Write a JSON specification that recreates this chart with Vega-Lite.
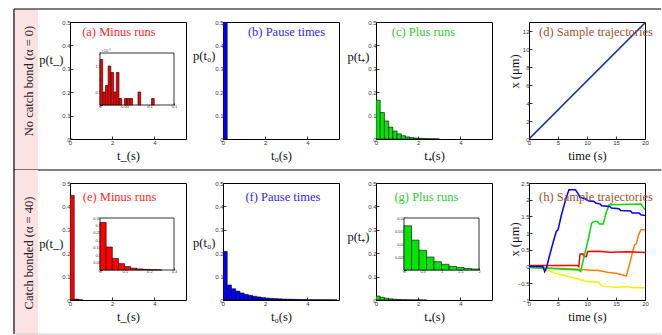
{
"$schema":"https://vega.github.io/schema/vega-lite/v6.json",
"padding":{"left":13,"top":8,"right":0,"bottom":0},
"autosize":{"type":"pad"},
"config":{
 "view":{"stroke":"#000","strokeWidth":1},
 "axis":{"domain":false,"grid":false,"tickColor":"#000","tickSize":-3,"tickWidth":0.8,"labelOverlap":false,"labelFlush":false,"labelBound":false,"labelFont":"Liberation Sans","labelFontSize":6,"labelColor":"#333","labelPadding":3,"titleFont":"Liberation Serif","titleFontSize":12.5,"titleFontWeight":"normal","titleColor":"#111"},
 "text":{"font":"Liberation Serif"}
},
"datasets":{
 "minus0":[{"t0":0,"t1":0.0055,"p":0.00175},{"t0":0.0055,"t1":0.011,"p":0.0005},{"t0":0.011,"t1":0.0165,"p":0.00075},{"t0":0.0165,"t1":0.022,"p":0.0015},{"t0":0.022,"t1":0.0275,"p":0.00125},{"t0":0.0275,"t1":0.033,"p":0.0005},{"t0":0.033,"t1":0.0385,"p":0.00125},{"t0":0.0385,"t1":0.044,"p":0.00025},{"t0":0.0495,"t1":0.055,"p":0.00025},{"t0":0.055,"t1":0.0605,"p":0.00025},{"t0":0.0605,"t1":0.066,"p":0.00025},{"t0":0.077,"t1":0.0825,"p":0.0005},{"t0":0.1045,"t1":0.11,"p":0.00025}],
 "pause0":[{"t0":0,"t1":0.2,"p":0.5}],
 "plus0":[{"t0":0,"t1":0.2,"p":0.166},{"t0":0.2,"t1":0.4,"p":0.113},{"t0":0.4,"t1":0.6,"p":0.077},{"t0":0.6,"t1":0.8,"p":0.051},{"t0":0.8,"t1":1.0,"p":0.034},{"t0":1.0,"t1":1.2,"p":0.022},{"t0":1.2,"t1":1.4,"p":0.014},{"t0":1.4,"t1":1.6,"p":0.009},{"t0":1.6,"t1":1.8,"p":0.006},{"t0":1.8,"t1":2.0,"p":0.004},{"t0":2.0,"t1":2.2,"p":0.003},{"t0":2.2,"t1":2.4,"p":0.002},{"t0":2.4,"t1":2.6,"p":0.0013},{"t0":2.6,"t1":2.8,"p":0.0009},{"t0":2.8,"t1":3.0,"p":0.0006}],
 "traj0":[{"t":0,"x":0},{"t":20,"x":12.9}],
 "minus40":[{"t0":0,"t1":0.2,"p":0.447},{"t0":0.2,"t1":0.4,"p":0.004},{"t0":0.4,"t1":0.6,"p":0.001}],
 "minus40inset":[{"t0":0,"t1":0.025,"p":0.32},{"t0":0.025,"t1":0.05,"p":0.155},{"t0":0.05,"t1":0.075,"p":0.078},{"t0":0.075,"t1":0.1,"p":0.043},{"t0":0.1,"t1":0.125,"p":0.023},{"t0":0.125,"t1":0.15,"p":0.012},{"t0":0.15,"t1":0.175,"p":0.007},{"t0":0.175,"t1":0.2,"p":0.004},{"t0":0.2,"t1":0.225,"p":0.002},{"t0":0.225,"t1":0.25,"p":0.001}],
 "pause40":[{"t0":0,"t1":0.2,"p":0.208},{"t0":0.2,"t1":0.4,"p":0.064},{"t0":0.4,"t1":0.6,"p":0.048},{"t0":0.6,"t1":0.8,"p":0.038},{"t0":0.8,"t1":1.0,"p":0.03},{"t0":1.0,"t1":1.2,"p":0.024},{"t0":1.2,"t1":1.4,"p":0.02},{"t0":1.4,"t1":1.6,"p":0.016},{"t0":1.6,"t1":1.8,"p":0.013},{"t0":1.8,"t1":2.0,"p":0.01},{"t0":2.0,"t1":2.2,"p":0.008},{"t0":2.2,"t1":2.4,"p":0.007},{"t0":2.4,"t1":2.6,"p":0.006},{"t0":2.6,"t1":2.8,"p":0.005},{"t0":2.8,"t1":3.0,"p":0.004},{"t0":3.0,"t1":3.2,"p":0.0035},{"t0":3.2,"t1":3.4,"p":0.003},{"t0":3.4,"t1":3.6,"p":0.0025},{"t0":3.6,"t1":3.8,"p":0.002},{"t0":3.8,"t1":4.0,"p":0.0018},{"t0":4.0,"t1":4.2,"p":0.0015},{"t0":4.2,"t1":4.4,"p":0.0013},{"t0":4.4,"t1":4.6,"p":0.0011},{"t0":4.6,"t1":4.8,"p":0.001},{"t0":4.8,"t1":5.0,"p":0.0009},{"t0":5.0,"t1":5.2,"p":0.0008},{"t0":5.2,"t1":5.4,"p":0.0007}],
 "plus40":[{"t0":0,"t1":0.2,"p":0.017},{"t0":0.2,"t1":0.4,"p":0.0115},{"t0":0.4,"t1":0.6,"p":0.0076},{"t0":0.6,"t1":0.8,"p":0.005},{"t0":0.8,"t1":1.0,"p":0.0032},{"t0":1.0,"t1":1.2,"p":0.0022},{"t0":1.2,"t1":1.4,"p":0.0014},{"t0":1.4,"t1":1.6,"p":0.001},{"t0":1.6,"t1":1.8,"p":0.0006},{"t0":1.8,"t1":2.0,"p":0.0004},{"t0":2.0,"t1":2.2,"p":0.0003},{"t0":2.2,"t1":2.4,"p":0.0002}],
 "traj40":[
  {"run":"yellow","t":0,"x":0},{"run":"yellow","t":2,"x":-0.05},{"run":"yellow","t":3.5,"x":-0.13},{"run":"yellow","t":5,"x":-0.22},{"run":"yellow","t":6.5,"x":-0.28},{"run":"yellow","t":8,"x":-0.35},{"run":"yellow","t":9,"x":-0.4},{"run":"yellow","t":10,"x":-0.45},{"run":"yellow","t":12,"x":-0.46},{"run":"yellow","t":12.4,"x":-0.55},{"run":"yellow","t":13,"x":-0.6},{"run":"yellow","t":15,"x":-0.62},{"run":"yellow","t":17,"x":-0.6},{"run":"yellow","t":18,"x":-0.63},{"run":"yellow","t":20,"x":-0.63},
  {"run":"orange","t":0,"x":-0.02},{"run":"orange","t":3,"x":-0.04},{"run":"orange","t":6,"x":-0.06},{"run":"orange","t":8.5,"x":-0.08},{"run":"orange","t":10,"x":-0.1},{"run":"orange","t":12,"x":-0.12},{"run":"orange","t":13.5,"x":-0.17},{"run":"orange","t":15,"x":-0.2},{"run":"orange","t":16.5,"x":-0.27},{"run":"orange","t":16.8,"x":-0.28},{"run":"orange","t":17.3,"x":0.05},{"run":"orange","t":17.8,"x":0.4},{"run":"orange","t":18.2,"x":0.65},{"run":"orange","t":18.5,"x":0.68},{"run":"orange","t":18.9,"x":0.95},{"run":"orange","t":19.3,"x":1.1},{"run":"orange","t":20,"x":1.1},
  {"run":"red","t":0,"x":0.03},{"run":"red","t":4,"x":0.03},{"run":"red","t":8.4,"x":0.03},{"run":"red","t":8.6,"x":0.0},{"run":"red","t":8.8,"x":0.37},{"run":"red","t":9.3,"x":0.38},{"run":"red","t":9.5,"x":0.3},{"run":"red","t":9.9,"x":0.3},{"run":"red","t":10.1,"x":0.45},{"run":"red","t":12,"x":0.46},{"run":"red","t":14,"x":0.43},{"run":"red","t":17,"x":0.44},{"run":"red","t":20,"x":0.42},
  {"run":"green","t":0,"x":-0.03},{"run":"green","t":3,"x":-0.05},{"run":"green","t":6,"x":-0.08},{"run":"green","t":8.6,"x":-0.1},{"run":"green","t":8.9,"x":-0.15},{"run":"green","t":9.5,"x":0.3},{"run":"green","t":10.2,"x":0.8},{"run":"green","t":10.8,"x":1.3},{"run":"green","t":11.2,"x":1.35},{"run":"green","t":11.8,"x":1.35},{"run":"green","t":12.2,"x":1.27},{"run":"green","t":12.8,"x":1.27},{"run":"green","t":13.2,"x":1.55},{"run":"green","t":13.8,"x":1.85},{"run":"green","t":16,"x":1.86},{"run":"green","t":19.3,"x":1.87},{"run":"green","t":20,"x":1.7},
  {"run":"blue","t":0,"x":0},{"run":"blue","t":2.4,"x":0},{"run":"blue","t":2.7,"x":-0.15},{"run":"blue","t":3.0,"x":-0.05},{"run":"blue","t":3.5,"x":0.3},{"run":"blue","t":4.2,"x":0.75},{"run":"blue","t":4.7,"x":1.05},{"run":"blue","t":5.0,"x":1.1},{"run":"blue","t":5.6,"x":1.55},{"run":"blue","t":6.4,"x":2.05},{"run":"blue","t":6.9,"x":2.3},{"run":"blue","t":8.0,"x":2.3},{"run":"blue","t":8.4,"x":2.2},{"run":"blue","t":8.8,"x":2.07},{"run":"blue","t":9.8,"x":2.02},{"run":"blue","t":10.2,"x":1.97},{"run":"blue","t":11.2,"x":1.95},{"run":"blue","t":11.5,"x":1.9},{"run":"blue","t":12.3,"x":1.87},{"run":"blue","t":12.5,"x":1.82},{"run":"blue","t":13.9,"x":1.8},{"run":"blue","t":14.2,"x":1.75},{"run":"blue","t":15.5,"x":1.73},{"run":"blue","t":15.8,"x":1.68},{"run":"blue","t":17.5,"x":1.66},{"run":"blue","t":17.8,"x":1.6},{"run":"blue","t":19.0,"x":1.6},{"run":"blue","t":19.3,"x":1.55},{"run":"blue","t":20,"x":1.53}
 ]
},
"columns":5,
"spacing":{"row":44,"column":37},
"bounds":"flush",
"concat":[
 {
  "width":18,"height":117,
  "view":{"stroke":null},
  "data":{"values":[{}]},
  "layer":[
   {"mark":{"type":"rect","fill":"#fbe3e3"},"encoding":{"x":{"datum":0,"type":"quantitative","scale":{"domain":[0,1],"nice":false,"zero":false},"axis":null},"x2":{"datum":1.278},"y":{"datum":-31,"type":"quantitative","scale":{"domain":[0,117],"nice":false},"axis":null},"y2":{"datum":130}}},
   {"mark":{"type":"rule","color":"#000","strokeWidth":1.2},"encoding":{"x":{"datum":-0.056,"type":"quantitative","axis":null},"x2":{"datum":35.9},"y":{"datum":130,"type":"quantitative","axis":null}}},
   {"mark":{"type":"rule","color":"#000","strokeWidth":1.2},"encoding":{"x":{"datum":-0.056,"type":"quantitative","axis":null},"x2":{"datum":35.9},"y":{"datum":-31,"type":"quantitative","axis":null}}},
   {"mark":{"type":"rule","color":"#000","strokeWidth":1.2},"encoding":{"x":{"datum":-0.056,"type":"quantitative","axis":null},"y":{"datum":-31,"type":"quantitative","axis":null},"y2":{"datum":130}}},
   {"mark":{"type":"text","angle":270,"fontSize":12.5,"font":"Liberation Serif","color":"#222","align":"center","baseline":"middle"},"encoding":{"x":{"datum":0.78,"type":"quantitative","axis":null},"y":{"datum":58,"type":"quantitative","axis":null},"text":{"value":"No catch bond (α = 0)"}}}
  ]
 },
 {
  "width":116,"height":117,
  "layer":[
   {"layer":[
    {"data":{"name":"minus0"},"mark":{"type":"rect","fill":"#ff0000","stroke":"#000","strokeWidth":0.6,"clip":true},
     "encoding":{"x":{"field":"t0","type":"quantitative","scale":{"domain":[0,5.5],"nice":false},"axis":{"values":[0,2,4],"title":"t_(s)","titleY":20,"titleBaseline":"alphabetic"}},"x2":{"field":"t1"},
      "y":{"field":"p","type":"quantitative","scale":{"domain":[0,0.5],"nice":false},"axis":{"values":[0,0.1,0.2,0.3,0.4,0.5],"format":"~g","title":"p(t_)","titleAngle":0,"titleAlign":"right","titleBaseline":"middle","titleX":-7,"titleY":37}},"y2":{"datum":0}}},
    {"data":{"values":[{}]},"mark":{"type":"text","text":"(a) Minus runs","color":"#ff2a2a","fontSize":12.5,"baseline":"alphabetic","align":"center"},
     "encoding":{"x":{"datum":2.32,"type":"quantitative","axis":{"values":[0,2,4],"title":"t_(s)","titleY":20,"titleBaseline":"alphabetic"}},
      "y":{"datum":0.439,"type":"quantitative","axis":{"values":[0,0.1,0.2,0.3,0.4,0.5],"format":"~g","title":"p(t_)","titleAngle":0,"titleAlign":"right","titleBaseline":"middle","titleX":-7,"titleY":37}}}}
   ]},
   {"layer":[
    {"data":{"values":[{}]},"mark":{"type":"rect","fill":"#fff","stroke":"#000","strokeWidth":0.8},
     "encoding":{"x":{"datum":0,"type":"quantitative","scale":{"domain":[0,0.15],"range":[30,104],"nice":false},"axis":{"orient":"bottom","offset":-34,"values":[0,0.05,0.1,0.15],"format":"~g","labelFontSize":4,"labelPadding":1.5,"tickSize":-2,"title":null}},"x2":{"datum":0.15},
      "y":{"datum":0,"type":"quantitative","scale":{"domain":[0,0.002],"range":[83,31],"nice":false},"axis":{"orient":"left","offset":-30,"values":[0,0.0005,0.001,0.0015,0.002],"labelExpr":"round(datum.value*10000)/10","labelFontSize":4,"labelPadding":1.5,"tickSize":-2,"title":"×10⁻³","titleAngle":0,"titleFont":"Liberation Sans","titleFontSize":4,"titleColor":"#444","titleAlign":"left","titleBaseline":"alphabetic","titleX":1,"titleY":29}},"y2":{"datum":0.002}}},
    {"data":{"name":"minus0"},"mark":{"type":"rect","fill":"#ff0000","stroke":"#000","strokeWidth":0.6},
     "encoding":{"x":{"field":"t0","type":"quantitative","axis":{"orient":"bottom","offset":-34,"values":[0,0.05,0.1,0.15],"format":"~g","labelFontSize":4,"labelPadding":1.5,"tickSize":-2,"title":null}},"x2":{"field":"t1"},
      "y":{"field":"p","type":"quantitative","axis":{"orient":"left","offset":-30,"values":[0,0.0005,0.001,0.0015,0.002],"labelExpr":"round(datum.value*10000)/10","labelFontSize":4,"labelPadding":1.5,"tickSize":-2,"title":"×10⁻³","titleAngle":0,"titleFont":"Liberation Sans","titleFontSize":4,"titleColor":"#444","titleAlign":"left","titleBaseline":"alphabetic","titleX":1,"titleY":29}},"y2":{"datum":0}}}
   ]}
  ],
  "resolve":{"scale":{"x":"independent","y":"independent"}}
 },
 {
  "width":116,"height":117,
  "layer":[
   {"data":{"name":"pause0"},"mark":{"type":"rect","fill":"#0000ff","stroke":"#000","strokeWidth":0.6,"clip":true},
    "encoding":{"x":{"field":"t0","type":"quantitative","scale":{"domain":[0,5.5],"nice":false},"axis":{"values":[0,2,4],"title":"t₀(s)","titleY":20,"titleBaseline":"alphabetic"}},"x2":{"field":"t1"},
     "y":{"field":"p","type":"quantitative","scale":{"domain":[0,0.5],"nice":false},"axis":{"values":[0,0.1,0.2,0.3,0.4,0.5],"format":"~g","title":"p(t₀)","titleAngle":0,"titleAlign":"right","titleBaseline":"middle","titleX":-8,"titleY":33}},"y2":{"datum":0}}},
   {"data":{"values":[{}]},"mark":{"type":"text","text":"(b) Pause times","color":"#2a2aff","fontSize":12.5,"baseline":"alphabetic","align":"center"},
    "encoding":{"x":{"datum":3.01,"type":"quantitative","axis":{"values":[0,2,4],"title":"t₀(s)","titleY":20,"titleBaseline":"alphabetic"}},
     "y":{"datum":0.439,"type":"quantitative","axis":{"values":[0,0.1,0.2,0.3,0.4,0.5],"format":"~g","title":"p(t₀)","titleAngle":0,"titleAlign":"right","titleBaseline":"middle","titleX":-8,"titleY":33}}}}
  ]
 },
 {
  "width":116,"height":117,
  "layer":[
   {"data":{"name":"plus0"},"mark":{"type":"rect","fill":"#00e600","stroke":"#000","strokeWidth":0.6,"clip":true},
    "encoding":{"x":{"field":"t0","type":"quantitative","scale":{"domain":[0,5.5],"nice":false},"axis":{"values":[0,2,4],"title":"t₊(s)","titleY":20,"titleBaseline":"alphabetic"}},"x2":{"field":"t1"},
     "y":{"field":"p","type":"quantitative","scale":{"domain":[0,0.5],"nice":false},"axis":{"values":[0,0.1,0.2,0.3,0.4,0.5],"format":"~g","title":"p(t₊)","titleAngle":0,"titleAlign":"right","titleBaseline":"middle","titleX":-7,"titleY":34}},"y2":{"datum":0}}},
   {"data":{"values":[{}]},"mark":{"type":"text","text":"(c) Plus runs","color":"#33cc33","fontSize":12.5,"baseline":"alphabetic","align":"center"},
    "encoding":{"x":{"datum":2.25,"type":"quantitative","axis":{"values":[0,2,4],"title":"t₊(s)","titleY":20,"titleBaseline":"alphabetic"}},
     "y":{"datum":0.439,"type":"quantitative","axis":{"values":[0,0.1,0.2,0.3,0.4,0.5],"format":"~g","title":"p(t₊)","titleAngle":0,"titleAlign":"right","titleBaseline":"middle","titleX":-7,"titleY":34}}}}
  ]
 },
 {
  "width":116,"height":117,
  "layer":[
   {"data":{"name":"traj0"},"mark":{"type":"line","strokeWidth":1.6,"color":"#1f3b99","clip":true},
    "encoding":{"x":{"field":"t","type":"quantitative","scale":{"domain":[0,20],"nice":false},"axis":{"values":[0,5,10,15,20],"title":"time (s)","titleY":20,"titleBaseline":"alphabetic"}},
     "y":{"field":"x","type":"quantitative","scale":{"domain":[0,13],"nice":false},"axis":{"values":[0,2,4,6,8,10,12],"title":"x (μm)","titleX":-15,"titleY":49,"titleBaseline":"middle"}}}},
   {"data":{"values":[{}]},"mark":{"type":"text","text":"(d) Sample trajectories","color":"#a0522d","fontSize":12.5,"baseline":"alphabetic","align":"center"},
    "encoding":{"x":{"datum":11.55,"type":"quantitative","axis":{"values":[0,5,10,15,20],"title":"time (s)","titleY":20,"titleBaseline":"alphabetic"}},
     "y":{"datum":11.41,"type":"quantitative","axis":{"values":[0,2,4,6,8,10,12],"title":"x (μm)","titleX":-15,"titleY":49,"titleBaseline":"middle"}}}}
  ]
 },
 {
  "width":18,"height":117,
  "view":{"stroke":null},
  "data":{"values":[{}]},
  "layer":[
   {"mark":{"type":"rect","fill":"#fbe3e3"},"encoding":{"x":{"datum":0,"type":"quantitative","scale":{"domain":[0,1],"nice":false,"zero":false},"axis":null},"x2":{"datum":1.278},"y":{"datum":-35.5,"type":"quantitative","scale":{"domain":[0,117],"nice":false},"axis":null},"y2":{"datum":130}}},
   {"mark":{"type":"rule","color":"#000","strokeWidth":1.2},"encoding":{"x":{"datum":-0.056,"type":"quantitative","axis":null},"y":{"datum":-34,"type":"quantitative","axis":null},"y2":{"datum":130}}},
   {"mark":{"type":"rule","color":"#d0d0d0","strokeWidth":1},"encoding":{"x":{"datum":-0.056,"type":"quantitative","axis":null},"x2":{"datum":35.9},"y":{"datum":-34,"type":"quantitative","axis":null}}},
   {"mark":{"type":"text","angle":270,"fontSize":12.5,"font":"Liberation Serif","color":"#222","align":"center","baseline":"middle"},"encoding":{"x":{"datum":0.78,"type":"quantitative","axis":null},"y":{"datum":47,"type":"quantitative","axis":null},"text":{"value":"Catch bonded (α = 40)"}}}
  ]
 },
 {
  "width":116,"height":117,
  "layer":[
   {"layer":[
    {"data":{"name":"minus40"},"mark":{"type":"rect","fill":"#ff0000","stroke":"#000","strokeWidth":0.6,"clip":true},
     "encoding":{"x":{"field":"t0","type":"quantitative","scale":{"domain":[0,5.5],"nice":false},"axis":{"values":[0,2,4],"title":"t_(s)","titleY":20,"titleBaseline":"alphabetic"}},"x2":{"field":"t1"},
      "y":{"field":"p","type":"quantitative","scale":{"domain":[0,0.5],"nice":false},"axis":{"values":[0,0.1,0.2,0.3,0.4,0.5],"format":"~g","title":"p(t_)","titleAngle":0,"titleAlign":"right","titleBaseline":"middle","titleX":-7,"titleY":60}},"y2":{"datum":0}}},
    {"data":{"values":[{}]},"mark":{"type":"text","text":"(e) Minus runs","color":"#ff2a2a","fontSize":12.5,"baseline":"alphabetic","align":"center"},
     "encoding":{"x":{"datum":2.35,"type":"quantitative","axis":{"values":[0,2,4],"title":"t_(s)","titleY":20,"titleBaseline":"alphabetic"}},
      "y":{"datum":0.422,"type":"quantitative","axis":{"values":[0,0.1,0.2,0.3,0.4,0.5],"format":"~g","title":"p(t_)","titleAngle":0,"titleAlign":"right","titleBaseline":"middle","titleX":-7,"titleY":60}}}}
   ]},
   {"layer":[
    {"data":{"values":[{}]},"mark":{"type":"rect","fill":"#fff","stroke":"#000","strokeWidth":0.8},
     "encoding":{"x":{"datum":0,"type":"quantitative","scale":{"domain":[0,0.3],"range":[30,104],"nice":false},"axis":{"orient":"bottom","offset":-30,"values":[0,0.1,0.2,0.3],"format":"~g","labelFontSize":4,"labelPadding":1.5,"tickSize":-2,"title":null}},"x2":{"datum":0.3},
      "y":{"datum":0,"type":"quantitative","scale":{"domain":[0,0.35],"range":[87,35],"nice":false},"axis":{"orient":"left","offset":-30,"values":[0,0.05,0.1,0.15,0.2,0.25,0.3,0.35],"format":"~g","labelFontSize":4,"labelPadding":1.5,"tickSize":-2,"title":null}},"y2":{"datum":0.35}}},
    {"data":{"name":"minus40inset"},"mark":{"type":"rect","fill":"#ff0000","stroke":"#000","strokeWidth":0.6},
     "encoding":{"x":{"field":"t0","type":"quantitative","axis":{"orient":"bottom","offset":-30,"values":[0,0.1,0.2,0.3],"format":"~g","labelFontSize":4,"labelPadding":1.5,"tickSize":-2,"title":null}},"x2":{"field":"t1"},
      "y":{"field":"p","type":"quantitative","axis":{"orient":"left","offset":-30,"values":[0,0.05,0.1,0.15,0.2,0.25,0.3,0.35],"format":"~g","labelFontSize":4,"labelPadding":1.5,"tickSize":-2,"title":null}},"y2":{"datum":0}}}
   ]}
  ],
  "resolve":{"scale":{"x":"independent","y":"independent"}}
 },
 {
  "width":116,"height":117,
  "layer":[
   {"data":{"name":"pause40"},"mark":{"type":"rect","fill":"#0000ff","stroke":"#000","strokeWidth":0.6,"clip":true},
    "encoding":{"x":{"field":"t0","type":"quantitative","scale":{"domain":[0,5.5],"nice":false},"axis":{"values":[0,2,4],"title":"t₀(s)","titleY":20,"titleBaseline":"alphabetic"}},"x2":{"field":"t1"},
     "y":{"field":"p","type":"quantitative","scale":{"domain":[0,0.5],"nice":false},"axis":{"values":[0,0.1,0.2,0.3,0.4,0.5],"format":"~g","title":"p(t₀)","titleAngle":0,"titleAlign":"right","titleBaseline":"middle","titleX":-8,"titleY":59}},"y2":{"datum":0}}},
   {"data":{"values":[{}]},"mark":{"type":"text","text":"(f) Pause times","color":"#2a2aff","fontSize":12.5,"baseline":"alphabetic","align":"center"},
    "encoding":{"x":{"datum":2.84,"type":"quantitative","axis":{"values":[0,2,4],"title":"t₀(s)","titleY":20,"titleBaseline":"alphabetic"}},
     "y":{"datum":0.422,"type":"quantitative","axis":{"values":[0,0.1,0.2,0.3,0.4,0.5],"format":"~g","title":"p(t₀)","titleAngle":0,"titleAlign":"right","titleBaseline":"middle","titleX":-8,"titleY":59}}}}
  ]
 },
 {
  "width":116,"height":117,
  "layer":[
   {"layer":[
    {"data":{"name":"plus40"},"mark":{"type":"rect","fill":"#00e600","stroke":"#000","strokeWidth":0.6,"clip":true},
     "encoding":{"x":{"field":"t0","type":"quantitative","scale":{"domain":[0,5.5],"nice":false},"axis":{"values":[0,2,4],"title":"t₊(s)","titleY":20,"titleBaseline":"alphabetic"}},"x2":{"field":"t1"},
      "y":{"field":"p","type":"quantitative","scale":{"domain":[0,0.5],"nice":false},"axis":{"values":[0,0.1,0.2,0.3,0.4,0.5],"format":"~g","title":"p(t₊)","titleAngle":0,"titleAlign":"right","titleBaseline":"middle","titleX":-7,"titleY":53}},"y2":{"datum":0}}},
    {"data":{"values":[{}]},"mark":{"type":"text","text":"(g) Plus runs","color":"#33cc33","fontSize":12.5,"baseline":"alphabetic","align":"center"},
     "encoding":{"x":{"datum":2.39,"type":"quantitative","axis":{"values":[0,2,4],"title":"t₊(s)","titleY":20,"titleBaseline":"alphabetic"}},
      "y":{"datum":0.422,"type":"quantitative","axis":{"values":[0,0.1,0.2,0.3,0.4,0.5],"format":"~g","title":"p(t₊)","titleAngle":0,"titleAlign":"right","titleBaseline":"middle","titleX":-7,"titleY":53}}}}
   ]},
   {"layer":[
    {"data":{"values":[{}]},"mark":{"type":"rect","fill":"#fff","stroke":"#000","strokeWidth":0.8},
     "encoding":{"x":{"datum":0,"type":"quantitative","scale":{"domain":[0,2],"range":[28,103],"nice":false},"axis":{"orient":"bottom","offset":-30,"values":[0,0.5,1,1.5,2],"format":"~g","labelFontSize":4,"labelPadding":1.5,"tickSize":-2,"title":null}},"x2":{"datum":2},
      "y":{"datum":0,"type":"quantitative","scale":{"domain":[0,0.02],"range":[87,35],"nice":false},"axis":{"orient":"left","offset":-28,"values":[0,0.005,0.01,0.015,0.02],"format":"~g","labelFontSize":4,"labelPadding":1.5,"tickSize":-2,"title":null}},"y2":{"datum":0.02}}},
    {"data":{"name":"plus40"},"transform":[{"filter":"datum.t1 <= 2"}],"mark":{"type":"rect","fill":"#00e600","stroke":"#000","strokeWidth":0.6},
     "encoding":{"x":{"field":"t0","type":"quantitative","axis":{"orient":"bottom","offset":-30,"values":[0,0.5,1,1.5,2],"format":"~g","labelFontSize":4,"labelPadding":1.5,"tickSize":-2,"title":null}},"x2":{"field":"t1"},
      "y":{"field":"p","type":"quantitative","axis":{"orient":"left","offset":-28,"values":[0,0.005,0.01,0.015,0.02],"format":"~g","labelFontSize":4,"labelPadding":1.5,"tickSize":-2,"title":null}},"y2":{"datum":0}}}
   ]}
  ],
  "resolve":{"scale":{"x":"independent","y":"independent"}}
 },
 {
  "width":116,"height":117,
  "layer":[
   {"data":{"name":"traj40"},"mark":{"type":"line","strokeWidth":1.5,"clip":true},
    "encoding":{"x":{"field":"t","type":"quantitative","scale":{"domain":[0,20],"nice":false},"axis":{"values":[0,5,10,15,20],"title":"time (s)","titleY":20,"titleBaseline":"alphabetic"}},
     "y":{"field":"x","type":"quantitative","scale":{"domain":[-1,2.5],"nice":false,"zero":false},"axis":{"values":[-1,-0.5,0,0.5,1,1.5,2,2.5],"format":"~g","title":"x (μm)","titleX":-15,"titleY":56,"titleBaseline":"middle"}},
     "color":{"field":"run","type":"nominal","scale":{"domain":["yellow","orange","red","green","blue"],"range":["#f2f200","#ff8000","#ff0000","#00e000","#0000ff"]},"legend":null},
     "order":{"field":"t","type":"quantitative"}}},
   {"data":{"values":[{}]},"mark":{"type":"text","text":"(h) Sample trajectories","color":"#a0522d","fontSize":12.5,"baseline":"alphabetic","align":"center"},
    "encoding":{"x":{"datum":11.55,"type":"quantitative","axis":{"values":[0,5,10,15,20],"title":"time (s)","titleY":20,"titleBaseline":"alphabetic"}},
     "y":{"datum":1.956,"type":"quantitative","axis":{"values":[-1,-0.5,0,0.5,1,1.5,2,2.5],"format":"~g","title":"x (μm)","titleX":-15,"titleY":56,"titleBaseline":"middle"}}}}
  ]
 }
]
}
